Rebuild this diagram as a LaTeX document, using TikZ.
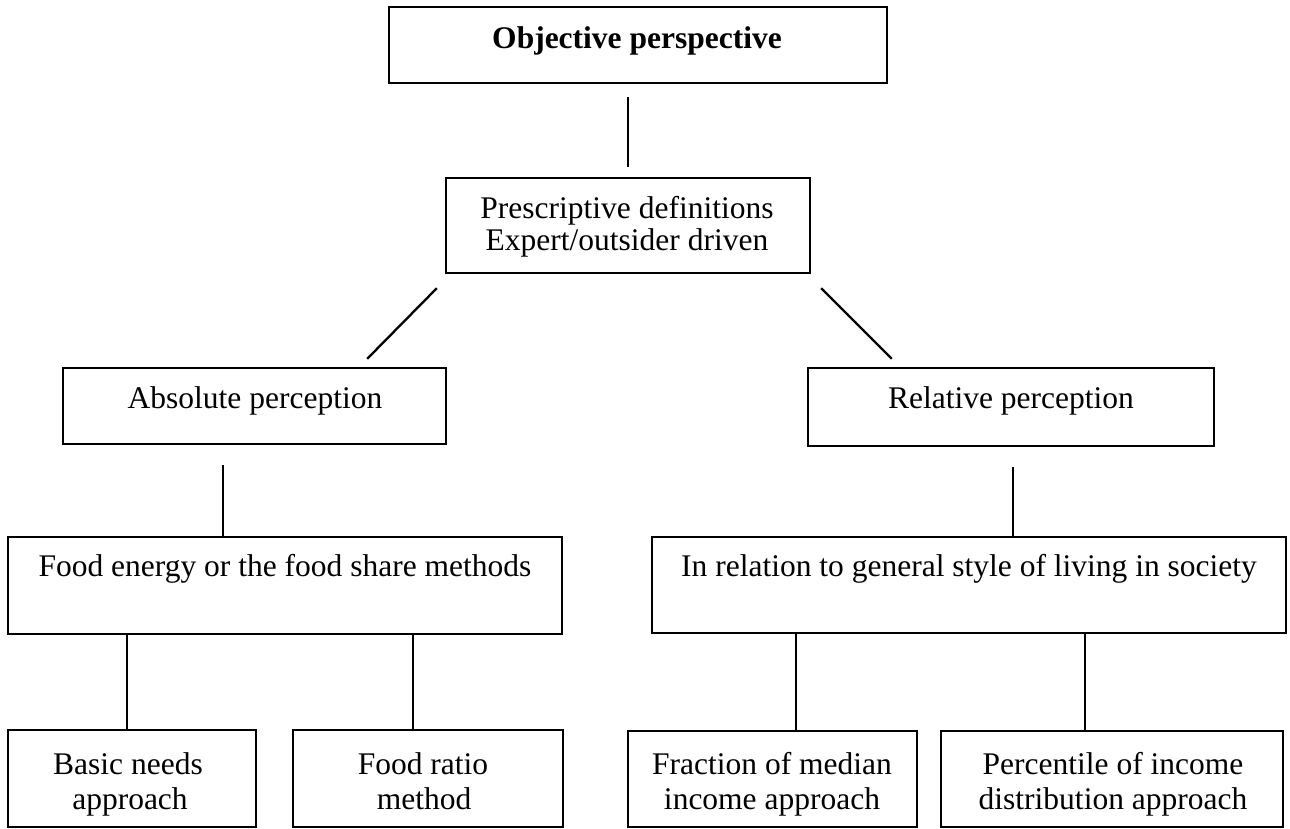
\documentclass[tikz,border=0pt]{standalone}
\usepackage{fontspec}
\setmainfont{Liberation Serif}
\begin{document}
\begin{tikzpicture}[x=1pt,y=-1pt,
  box/.style={draw, line width=2.3pt, rectangle, inner sep=0pt},
  lbl/.style={anchor=base, inner sep=0pt, font=\fontsize{31.5}{34}\selectfont},
  link/.style={line width=2.3pt}]
\useasboundingbox (0,0) rectangle (1290,828);

% boxes
\node[box, minimum width=498pt, minimum height=76pt] (obj)   at (638,45)     {};
\node[box, minimum width=364pt, minimum height=95pt] (pres)  at (628,225.5)  {};
\node[box, minimum width=383pt, minimum height=76pt] (abs)   at (254.5,406)  {};
\node[box, minimum width=406pt, minimum height=78pt] (rel)   at (1011,407)   {};
\node[box, minimum width=554pt, minimum height=97pt] (food)  at (285,585.5)  {};
\node[box, minimum width=634pt, minimum height=96pt] (soc)   at (969,585)    {};
\node[box, minimum width=248pt, minimum height=97pt] (basic) at (132,778.5)  {};
\node[box, minimum width=270pt, minimum height=97pt] (ratio) at (428,778.5)  {};
\node[box, minimum width=289pt, minimum height=96pt] (frac)  at (772.5,779)  {};
\node[box, minimum width=342pt, minimum height=96pt] (perc)  at (1112,779)   {};

% labels
\node[lbl] (objT)    at (637,48)   {\bfseries Objective perspective};
\node[lbl] (presA)   at (627,218)  {Prescriptive definitions};
\node[lbl] (presB)   at (627,250)  {Expert/outsider driven};
\node[lbl] (absT)    at (255,408)  {Absolute perception};
\node[lbl] (relT)    at (1011,408) {Relative perception};
\node[lbl] (foodT)   at (285,576)  {Food energy or the food share methods};
\node[lbl] (socT)    at (969,576)  {In relation to general style of living in society};
\node[lbl] (basicA)  at (128,774)  {Basic needs};
\node[lbl] (basicB)  at (130,809)  {approach};
\node[lbl] (ratioA)  at (423,774)  {Food ratio};
\node[lbl] (ratioB)  at (424,809)  {method};
\node[lbl] (fracA)   at (772,774)  {Fraction of median};
\node[lbl] (fracB)   at (772,809)  {income approach};
\node[lbl] (percA)   at (1113,774) {Percentile of income};
\node[lbl] (percB)   at (1113,809) {distribution approach};

% connectors
\draw[link, shorten <=13pt, shorten >=10pt] (pres.north |- obj.south) -- (pres.north);
\draw[link] ([xshift=-8pt,yshift=-14pt]pres.south west) -- ([xshift=-80pt,yshift=8pt]abs.north east);
\draw[link] ([xshift=10pt,yshift=-14pt]pres.south east) -- ([xshift=85pt,yshift=8pt]rel.north west);
\draw[link, shorten <=20pt] ([xshift=-31.5pt]abs.south) -- ([xshift=-31.5pt]abs.south |- food.north);
\draw[link, shorten <=20pt] ([xshift=2pt]rel.south) -- ([xshift=2pt]rel.south |- soc.north);
\draw[link] ([xshift=-5pt]basic.north |- food.south) -- ([xshift=-5pt]basic.north);
\draw[link] ([xshift=-15pt]ratio.north |- food.south) -- ([xshift=-15pt]ratio.north);
\draw[link] ([xshift=23.5pt]frac.north |- soc.south) -- ([xshift=23.5pt]frac.north);
\draw[link] ([xshift=-27pt]perc.north |- soc.south) -- ([xshift=-27pt]perc.north);
\end{tikzpicture}
\end{document}
